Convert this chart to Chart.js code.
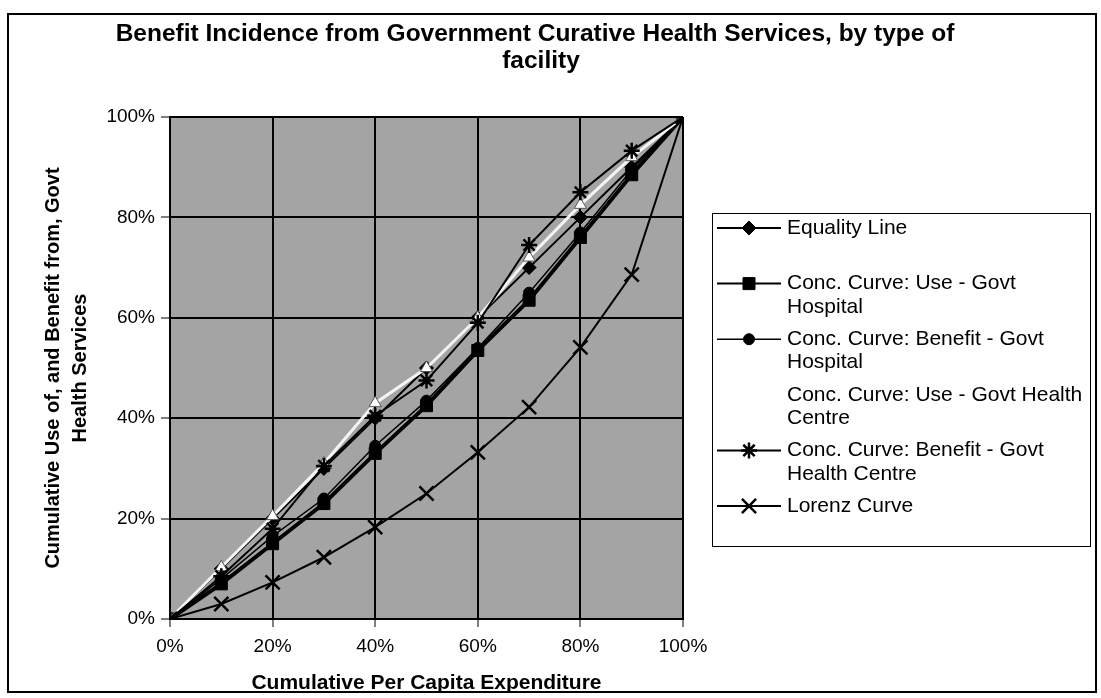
<!DOCTYPE html>
<html>
<head>
<meta charset="utf-8">
<script src="https://cdn.jsdelivr.net/npm/chart.js@4/dist/chart.umd.min.js"></script>
<style>
    html, body { margin: 0; padding: 0; background: #fff; }
    #wrap { width: 1101px; height: 698px; }
</style>
</head>
<body>
<div id="wrap"><canvas id="chart" width="1101" height="698"></canvas></div>
<script>
// cumulative share of population (x) and the curves
const xValues = [0, 10, 20, 30, 40, 50, 60, 70, 80, 90, 100];
const equalityLine = [0, 10, 20, 30, 40, 50, 60, 70, 80, 90, 100];
const useHospital = [0, 7, 15, 23, 33, 42.5, 53.5, 63.5, 76, 88.5, 100];
const benefitHospital = [0, 8, 16.5, 24, 34.5, 43.5, 54, 65, 77, 89.5, 100];
const useHealthCentre = [0, 10.3, 20.5, 31, 43, 50, 60, 72, 82.5, 92, 100];
const benefitHealthCentre = [0, 8.5, 18, 30.5, 40.5, 47.5, 59, 74.5, 85, 93.3, 100];
const lorenzCurve = [0, 3, 7.3, 12.3, 18.3, 25, 33.2, 42.2, 54.1, 68.6, 100];

const axisTicks = [0, 20, 40, 60, 80, 100];
const titleLines = ['Benefit Incidence from Government Curative Health Services, by type of', 'facility'];
const xTitle = 'Cumulative Per Capita Expenditure';
const yTitle = ['Cumulative Use of, and Benefit from, Govt', 'Health Services'];
const legendLines = [
    ['Equality Line'],
    ['Conc. Curve: Use - Govt', 'Hospital'],
    ['Conc. Curve: Benefit - Govt', 'Hospital'],
    ['Conc. Curve: Use - Govt Health', 'Centre'],
    ['Conc. Curve: Benefit - Govt', 'Health Centre'],
    ['Lorenz Curve']
];

const FONT = "'Liberation Sans', Arial, sans-serif";

function toPoints(values) {
    return values.map((v, i) => ({ x: xValues[i], y: v }));
}

function makeSeries(i, values, style) {
    return Object.assign({
        label: legendLines[i].join(' '),
        data: toPoints(values),
        borderColor: '#000',
        backgroundColor: '#000',
        pointBorderColor: '#000',
        pointBackgroundColor: '#000',
        pointBorderWidth: 1,
        tension: 0,
        fill: false,
        inLegend: true
    }, style);
}

const datasets = [
    makeSeries(0, equalityLine, { borderWidth: 2, pointStyle: 'rectRot', pointRadius: 7, order: 5 }),
    makeSeries(1, useHospital, { borderWidth: 4, pointStyle: 'rect', pointRadius: 8.5, order: 3 }),
    makeSeries(2, benefitHospital, { borderWidth: 1.5, pointStyle: 'circle', pointRadius: 5.5, order: 4 }),
    // pale series - vanishes against the white legend box, as in the scan
    makeSeries(3, useHealthCentre, {
        borderColor: '#f4f4f4', backgroundColor: '#fff', borderWidth: 3,
        pointStyle: 'triangle', pointRadius: 7, pointBackgroundColor: '#fff',
        pointBorderColor: '#555', order: 2, inLegend: false
    }),
    makeSeries(4, benefitHealthCentre, { borderWidth: 2, pointStyle: 'star', pointRadius: 8, pointBorderWidth: 2.5, order: 1 }),
    makeSeries(5, lorenzCurve, { borderWidth: 2, pointStyle: 'crossRot', pointRadius: 10, pointBorderWidth: 2.5, order: 0 })
];

function drawMarker(ctx, ds, x, y) {
    const opts = {
        pointStyle: ds.pointStyle,
        radius: ds.pointRadius,
        rotation: 0,
        borderWidth: ds.pointBorderWidth
    };
    ctx.save();
    ctx.fillStyle = ds.pointBackgroundColor;
    ctx.strokeStyle = ds.pointBorderColor;
    ctx.lineWidth = ds.pointBorderWidth;
    Chart.helpers.drawPoint(ctx, opts, x, y);
    ctx.restore();
}

const decorPlugin = {
    id: 'decor',
    beforeDraw(chart) {
        const { ctx, chartArea } = chart;
        ctx.save();
        ctx.fillStyle = '#fff';
        ctx.fillRect(0, 0, chart.width, chart.height);
        ctx.fillStyle = '#a4a4a4';
        ctx.fillRect(chartArea.left, chartArea.top, chartArea.right - chartArea.left, chartArea.bottom - chartArea.top);
        ctx.restore();
    },
    afterDraw(chart) {
        const ctx = chart.ctx;
        ctx.save();
        // outer frame
        ctx.strokeStyle = '#000';
        ctx.lineWidth = 2;
        ctx.strokeRect(8, 14, 1088, 678);

        // title
        ctx.fillStyle = '#000';
        ctx.font = 'bold 24.5px ' + FONT;
        ctx.textAlign = 'center';
        ctx.textBaseline = 'alphabetic';
        ctx.fillText(titleLines[0], 535, 41);
        ctx.fillText(titleLines[1], 541, 68);

        // legend
        const box = { left: 712, top: 213, right: 1090, bottom: 546 };
        ctx.fillStyle = '#fff';
        ctx.fillRect(box.left, box.top, box.right - box.left, box.bottom - box.top);
        ctx.lineWidth = 1;
        ctx.strokeStyle = '#000';
        ctx.strokeRect(box.left + 0.5, box.top + 0.5, box.right - box.left, box.bottom - box.top);

        ctx.font = '21px ' + FONT;
        ctx.textAlign = 'left';
        ctx.textBaseline = 'middle';
        chart.data.datasets.forEach((ds, i) => {
            const y = box.top + 15 + i * 55.6;
            if (ds.inLegend) {
                ctx.strokeStyle = ds.borderColor;
                ctx.lineWidth = Math.min(ds.borderWidth, 2);
                ctx.beginPath();
                ctx.moveTo(717, y);
                ctx.lineTo(781, y);
                ctx.stroke();
                drawMarker(ctx, ds, 749, y);
            }
            ctx.fillStyle = '#000';
            legendLines[i].forEach((line, j) => {
                ctx.fillText(line, 787, y + j * 23.5);
            });
        });
        ctx.restore();
    }
};

new Chart(document.getElementById('chart'), {
    type: 'line',
    data: { datasets: datasets },
    options: {
        responsive: false,
        animation: false,
        devicePixelRatio: 1,
        layout: { padding: { left: 40, top: 117, right: 418, bottom: 2 } },
        plugins: {
            legend: { display: false },
            tooltip: { enabled: false },
            title: { display: false }
        },
        scales: {
            x: {
                type: 'linear',
                min: 0,
                max: 100,
                afterFit: s => { s.height = 77; },
                afterBuildTicks: s => { s.ticks = axisTicks.map(v => ({ value: v })); },
                ticks: {
                    color: '#000',
                    font: { family: FONT, size: 19 },
                    padding: 8,
                    maxRotation: 0,
                    callback: v => v + '%'
                },
                grid: { color: '#000', lineWidth: 2, tickLength: 8, tickWidth: 1, tickColor: '#000' },
                border: { display: true, color: '#000', width: 2 },
                title: {
                    display: true,
                    text: xTitle,
                    color: '#000',
                    font: { family: FONT, size: 21, weight: 'bold', lineHeight: 1.2 },
                    padding: 0
                }
            },
            y: {
                type: 'linear',
                min: 0,
                max: 100,
                afterFit: s => { s.width = 130; },
                afterBuildTicks: s => { s.ticks = axisTicks.map(v => ({ value: v })); },
                ticks: {
                    color: '#000',
                    font: { family: FONT, size: 19 },
                    padding: 6,
                    callback: v => v + '%'
                },
                grid: { color: '#000', lineWidth: 2, tickLength: 9, tickWidth: 1, tickColor: '#000' },
                border: { display: true, color: '#000', width: 2 },
                title: {
                    display: true,
                    text: yTitle,
                    color: '#000',
                    font: { family: FONT, size: 20, weight: 'bold', lineHeight: 1.35 },
                    padding: 0
                }
            }
        }
    },
    plugins: [decorPlugin]
});
</script>
</body>
</html>
